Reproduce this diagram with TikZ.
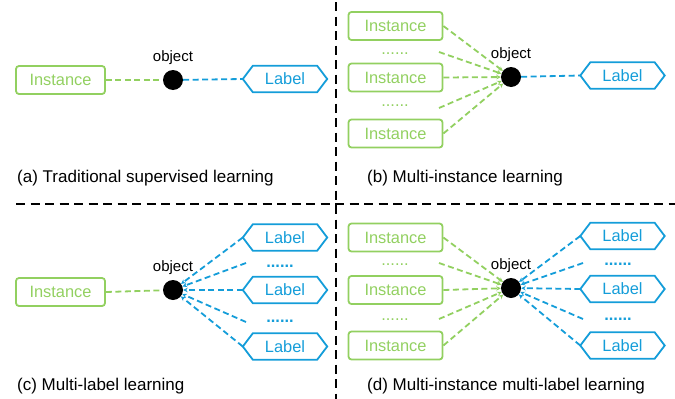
\documentclass[tikz,border=0pt]{standalone}
\usepackage{fontspec}
\setmainfont{Liberation Sans}
\usetikzlibrary{arrows.meta}
\definecolor{instgreen}{RGB}{146,208,96}
\definecolor{labblue}{RGB}{20,157,217}
\begin{document}
\begin{tikzpicture}[x=1pt,y=-1pt,
  inst/.style={draw=instgreen, line width=1.8pt, rounded corners=3pt, text=instgreen,
    minimum width=89pt, minimum height=28pt, inner sep=0pt,
    font=\fontsize{16.4}{18}\selectfont},
  instw/.style={inst, minimum width=94pt},
  lab/.style={text=labblue, minimum width=84pt, minimum height=26pt, inner sep=0pt,
    font=\fontsize{16.4}{18}\selectfont},
  hexline/.style={draw=labblue, line width=1.8pt, line join=miter},
  obj/.style={circle, fill=black, minimum size=20pt, inner sep=0pt},
  objtxt/.style={anchor=base, inner sep=0pt, font=\fontsize{15}{17}\selectfont},
  gdots/.style={anchor=base, inner sep=0pt, text=instgreen, font=\fontsize{16.4}{18}\selectfont},
  bdots/.style={anchor=base, inner sep=0pt, text=labblue, font=\bfseries\fontsize{16.4}{18}\selectfont},
  gline/.style={draw=instgreen, line width=1.8pt, dash pattern=on 6pt off 3.5pt},
  bline/.style={draw=labblue, line width=1.8pt, dash pattern=on 6pt off 3.5pt},
  tipin/.style={-{Stealth[length=4.5pt,width=4.5pt]}},
  divider/.style={draw=black, line width=2.2pt, dash pattern=on 9pt off 5.5pt},
  captxt/.style={anchor=base west, inner sep=0pt, font=\fontsize{17}{20}\selectfont}
]
\useasboundingbox (0,0) rectangle (675,399);

% panel dividers
\draw[divider] (336,2) -- (336,399);
\draw[divider] (16,204) -- (675,204);

% ---- (a) traditional supervised learning
\node[inst] (ia) at (60.5,80) {Instance};
\node[obj] (oa) at (173,80) {};
\node[objtxt] (ta) at (173,61) {object};
\node[lab] (la) at (285,79) {Label};
\draw[gline] (ia.east) -- (oa);
\draw[bline] (oa) -- (la.west);
\node[captxt] (capa) at (17,182) {(a) Traditional supervised learning};

% ---- (b) multi-instance learning
\node[instw] (ib1) at (395.5,26) {Instance};
\node[gdots] (gb1) at (395,54) {......};
\node[instw] (ib2) at (395.5,77.5) {Instance};
\node[gdots] (gb2) at (395,106) {......};
\node[instw] (ib3) at (395.5,133.5) {Instance};
\node[obj] (ob) at (511,77) {};
\node[objtxt] (tb) at (511,58) {object};
\node[lab] (lb) at (622.5,75.5) {Label};
\coordinate (sb1) at (439,52);
\coordinate (sb2) at (439,108);
\foreach \s in {ib1.east, sb1, ib2.east, sb2, ib3.east}
  \draw[gline,tipin] (\s) -- (ob);
\draw[bline] (ob) -- (lb.west);
\node[captxt] (capb) at (367,182) {(b) Multi-instance learning};

% ---- (c) multi-label learning
\node[inst] (ic) at (60.5,292) {Instance};
\node[obj] (oc) at (173,290) {};
\node[objtxt] (tc) at (173,271) {object};
\node[lab] (lc1) at (285,237.5) {Label};
\node[bdots] (bc1) at (280,267) {......};
\node[lab] (lc2) at (285,290) {Label};
\node[bdots] (bc2) at (280,322) {......};
\node[lab] (lc3) at (285,346.5) {Label};
\coordinate (sc1) at (246,263);
\coordinate (sc2) at (246,322);
\draw[gline] (ic.east) -- (oc);
\foreach \s in {lc1.west, sc1, lc2.west, sc2, lc3.west}
  \draw[bline,tipin] (\s) -- (oc);
\node[captxt] (capc) at (17,390) {(c) Multi-label learning};

% ---- (d) multi-instance multi-label learning
\node[instw] (id1) at (395.5,237.5) {Instance};
\node[gdots] (gd1) at (395,265) {......};
\node[instw] (id2) at (395.5,290) {Instance};
\node[gdots] (gd2) at (395,320) {......};
\node[instw] (id3) at (395.5,345.5) {Instance};
\node[obj] (od) at (511,288) {};
\node[objtxt] (td) at (511,269) {object};
\node[lab] (ld1) at (622.5,236) {Label};
\node[bdots] (bd1) at (618,265) {......};
\node[lab] (ld2) at (622.5,289) {Label};
\node[bdots] (bd2) at (618,320) {......};
\node[lab] (ld3) at (622.5,345.5) {Label};
\coordinate (sd1) at (439,263);
\coordinate (sd2) at (439,319);
\coordinate (td1) at (583,263);
\coordinate (td2) at (583,319);
\foreach \s in {id1.east, sd1, id2.east, sd2, id3.east}
  \draw[gline,tipin] (\s) -- (od);
\foreach \s in {ld1.west, td1, ld2.west, td2, ld3.west}
  \draw[bline,tipin] (\s) -- (od);
\node[captxt] (capd) at (367,390) {(d) Multi-instance multi-label learning};

% hexagonal outlines of the label nodes
\foreach \n in {la,lb,lc1,lc2,lc3,ld1,ld2,ld3}
  \draw[hexline] (\n.west) -- ([xshift=10pt]\n.north west) -- ([xshift=-10pt]\n.north east)
    -- (\n.east) -- ([xshift=-10pt]\n.south east) -- ([xshift=10pt]\n.south west) -- cycle;
\end{tikzpicture}
\end{document}
